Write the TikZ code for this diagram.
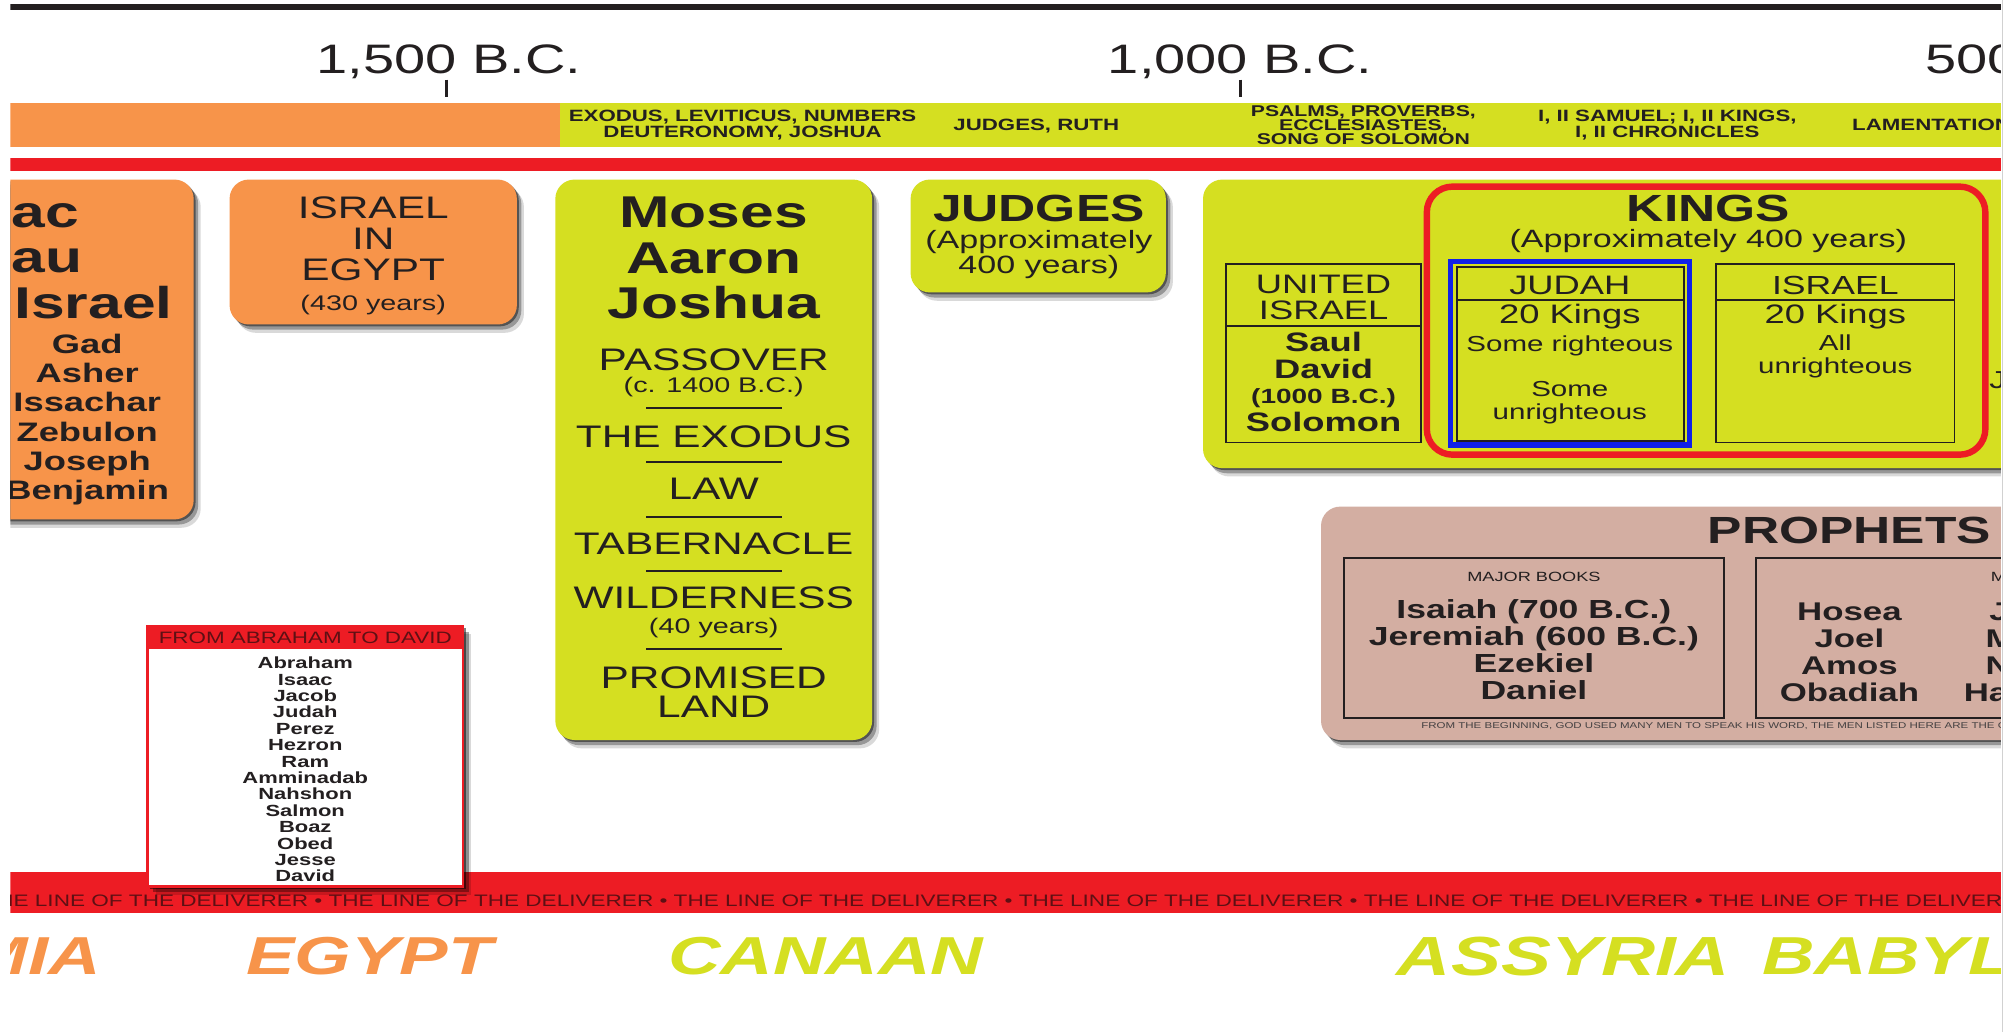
\documentclass[tikz,border=0pt]{standalone}
\usepackage{fontspec}
\setmainfont{Liberation Sans}[FakeStretch=1.36]
\usetikzlibrary{shadows}
\definecolor{ink}{HTML}{231F20}
\definecolor{org}{HTML}{F7944A}
\definecolor{ylw}{HTML}{D5DF21}
\definecolor{rd}{HTML}{ED1C24}
\definecolor{prp}{HTML}{D3AEA2}
\definecolor{drd}{HTML}{5E1014}
\definecolor{blu}{HTML}{1020E8}
\newcommand{\fsz}[1]{\fontsize{#1}{#1}\selectfont}
\begin{document}
\begin{tikzpicture}[x=1pt,y=-1pt,
  lbl/.style={inner sep=0pt, anchor=base, /utils/exec={\pgfmathsetmacro\curfs{#1*0.868}},
    yshift={-0.358*\curfs*1pt}, font=\fsz{\curfs}, text=ink,
    text height={0.716*\curfs*1pt}, text depth=0pt},
  lblb/.style={lbl=#1, font=\fsz{\curfs}\bfseries},
  lblbi/.style={lbl=#1, font=\fsz{\curfs}\bfseries\itshape},
  box/.style={rounded corners=15pt,
    drop shadow={shadow xshift=1.5pt, shadow yshift=-1.5pt, opacity=0.45, fill=black},
    drop shadow={shadow xshift=3.5pt, shadow yshift=-4pt, opacity=0.3, fill=black},
    drop shadow={shadow xshift=5.5pt, shadow yshift=-6.5pt, opacity=0.15, fill=black}},
  sep/.style={ink, line width=1.5pt},
  thin/.style={draw=ink, line width=1.3pt}
]
\useasboundingbox (0,0) rectangle (1568,804.6);
\begin{scope}
\clip (8,0) rectangle (1560,804.6);
% top rule and dates
\fill[ink] (8,3) rectangle (1560,8);
\node[lbl=37] (d1500) at (350,46) {1,500 B.C.};
\node[lbl=37] (d1000) at (967,46) {1,000 B.C.};
\node[lbl=37, anchor=base west] (d500) at (1501,46) {500};
\draw[ink, line width=2pt] (348,62) -- (348,76);
\draw[ink, line width=2pt] (967,62) -- (967,76);
% book bar
\fill[org] (8,80) rectangle (437,115);
\fill[ylw] (437,80) rectangle (1560,115);
\node[lblb=14.7] (b1) at (579,90) {EXODUS, LEVITICUS, NUMBERS};
\node[lblb=14.7] (b2) at (579,103) {DEUTERONOMY, JOSHUA};
\node[lblb=14.7] (b3) at (808,97) {JUDGES, RUTH};
\node[lblb=14] (b4) at (1063,86.5) {PSALMS, PROVERBS,};
\node[lblb=14] (b5) at (1063,97.5) {ECCLESIASTES,};
\node[lblb=14] (b6) at (1063,108.5) {SONG OF SOLOMON};
\node[lblb=14.7] (b7) at (1300,90) {I, II SAMUEL; I, II KINGS,};
\node[lblb=14.7] (b8) at (1300,103) {I, II CHRONICLES};
\node[lblb=14.7, anchor=base west] (b9) at (1444,97) {LAMENTATION};
\fill[rd] (8,123) rectangle (1560,133);
% left orange box
\fill[org, box] (-30,140) rectangle (151,405);
\node[lblb=40, anchor=base west] (p1) at (9,165) {ac};
\node[lblb=40, anchor=base west] (p2) at (9,200) {au};
\node[lblb=40, anchor=base west] (p3) at (11,236) {Israel};
\foreach \nm [count=\i from 0] in {Gad,Asher,Issachar,Zebulon,Joseph,Benjamin}
  \node[lblb=24] (son\i) at (68,{268+22.8*\i}) {\nm};
% Israel in Egypt
\fill[org, box] (179,140) rectangle (403,253);
\node[lbl=28] (e1) at (291,162) {ISRAEL};
\node[lbl=28] (e2) at (291,186) {IN};
\node[lbl=28] (e3) at (291,210) {EGYPT};
\node[lbl=19] (e4) at (291,236) {(430 years)};
% Moses box
\fill[ylw, box] (433,140) rectangle (680,577);
\node[lblb=40] (m1) at (556.5,165) {Moses};
\node[lblb=40] (m2) at (556.5,200.5) {Aaron};
\node[lblb=40] (m3) at (556.5,236) {Joshua};
\node[lbl=28] (m4) at (556.5,280) {PASSOVER};
\node[lbl=19] (m5) at (556.5,300) {(c. 1400 B.C.)};
\node[lbl=28] (m6) at (556.5,340) {THE EXODUS};
\node[lbl=28] (m7) at (556.5,381) {LAW};
\node[lbl=28] (m8) at (556.5,424) {TABERNACLE};
\node[lbl=28] (m9) at (556.5,466) {WILDERNESS};
\node[lbl=19] (m10) at (556.5,488) {(40 years)};
\node[lbl=28] (m11) at (556.5,528) {PROMISED};
\node[lbl=28] (m12) at (556.5,551) {LAND};
\foreach \y in {318,360,403,445,506} \draw[sep] (504,\y) -- (610,\y);
% Judges box
\fill[ylw, box] (710,140) rectangle (909,228);
\node[lblb=34] (j1) at (810,162) {JUDGES};
\node[lbl=22.5] (j2) at (810,187) {(Approximately};
\node[lbl=22.5] (j3) at (810,206) {400 years)};
% Kings box
\fill[ylw, box] (938,140) rectangle (1620,365);
\draw[thin] (956,206) rectangle (1108,345);
\draw[thin] (956,254) -- (1108,254);
\node[lbl=24] (u1) at (1032,221) {UNITED};
\node[lbl=24] (u2) at (1032,242) {ISRAEL};
\node[lblb=24] (u3) at (1032,267) {Saul};
\node[lblb=24] (u4) at (1032,288) {David};
\node[lblb=18.5] (u5) at (1032,309) {(1000 B.C.)};
\node[lblb=24] (u6) at (1032,329) {Solomon};
\draw[rd, line width=5pt, rounded corners=20pt] (1112.5,145.5) rectangle (1548,354.5);
\node[lblb=34] (k1) at (1332,162) {KINGS};
\node[lbl=22.5] (k2) at (1332,186) {(Approximately 400 years)};
\draw[thin] (1136,208) rectangle (1313,344);
\draw[thin] (1136,234) -- (1313,234);
\draw[blu, line width=4pt] (1131,204) rectangle (1317,347);
\node[lbl=24] (ju1) at (1224,222) {JUDAH};
\node[lbl=24] (ju2) at (1224,245) {20 Kings};
\node[lbl=19.5] (ju3) at (1224,268) {Some righteous};
\node[lbl=19.5] (ju4) at (1224,303) {Some};
\node[lbl=19.5] (ju5) at (1224,321) {unrighteous};
\draw[thin] (1338,206) rectangle (1524,345);
\draw[thin] (1338,234) -- (1524,234);
\node[lbl=23.5] (is1) at (1431,222) {ISRAEL};
\node[lbl=24] (is2) at (1431,245) {20 Kings};
\node[lbl=19.5] (is3) at (1431,267) {All};
\node[lbl=19.5] (is4) at (1431,285) {unrighteous};
\node[lbl=22, anchor=base west] (jx) at (1551,296) {J};
% Prophets
\fill[prp, box] (1030,395) rectangle (1620,577);
\node[lblb=34] (pr) at (1442,413) {PROPHETS};
\draw[thin] (1048,435) rectangle (1344,560);
\draw[thin] (1369,435) rectangle (1620,560);
\node[lbl=12] (mj) at (1196,450) {MAJOR BOOKS};
\node[lblb=23.5] (mj1) at (1196,475) {Isaiah (700 B.C.)};
\node[lblb=23.5] (mj2) at (1196,496) {Jeremiah (600 B.C.)};
\node[lblb=23.5] (mj3) at (1196,517) {Ezekiel};
\node[lblb=23.5] (mj4) at (1196,538) {Daniel};
\node[lbl=12, anchor=base west] (mn) at (1552,450) {M};
\node[lblb=23] (mn1) at (1442,477) {Hosea};
\node[lblb=23] (mn2) at (1442,498) {Joel};
\node[lblb=23] (mn3) at (1442,519) {Amos};
\node[lblb=23] (mn4) at (1442,540) {Obadiah};
\node[lblb=23, anchor=base west] (mn5) at (1551,477) {J};
\node[lblb=23, anchor=base west] (mn6) at (1548,498) {M};
\node[lblb=23, anchor=base west] (mn7) at (1548,519) {N};
\node[lblb=23, anchor=base west] (mn8) at (1531,540) {Ha};
\node[lbl=7.6, anchor=base west, text=ink!85] (ft) at (1108,566) {FROM THE BEGINNING, GOD USED MANY MEN TO SPEAK HIS WORD, THE MEN LISTED HERE ARE THE ON};
% bottom band
\fill[rd] (8,680) rectangle (1560,712);
\node[lbl=14.9, anchor=base west, text=drd] (band) at (-13,702) {THE LINE OF THE DELIVERER • THE LINE OF THE DELIVERER • THE LINE OF THE DELIVERER • THE LINE OF THE DELIVERER • THE LINE OF THE DELIVERER • THE LINE OF THE DELIVERER • THE LINE OF THE DELIVERER};
% Abraham to David
\filldraw[fill=white, draw=rd, line width=2pt,
  drop shadow={shadow xshift=2pt, shadow yshift=-2pt, opacity=0.5, fill=black},
  drop shadow={shadow xshift=4.5pt, shadow yshift=-4.5pt, opacity=0.35, fill=black},
  drop shadow={shadow xshift=6.5pt, shadow yshift=-6.5pt, opacity=0.15, fill=black}] (115,488) rectangle (361,691);
\fill[rd] (115,488) rectangle (361,506);
\node[lbl=14.8, text=drd] (abh) at (238,497) {FROM ABRAHAM TO DAVID};
\foreach \nm [count=\i from 0] in {Abraham,Isaac,Jacob,Judah,Perez,Hezron,Ram,Amminadab,Nahshon,Salmon,Boaz,Obed,Jesse,David}
  \node[lblb=14.5] (ab\i) at (238,{517+12.77*\i}) {\nm};
% regions
\node[lblbi=48, anchor=base east, text=org] (r1) at (79,745) {MIA};
\node[lblbi=48, anchor=base west, text=org] (r2) at (192,745) {EGYPT};
\node[lblbi=48, anchor=base west, text=ylw] (r3) at (521,745) {CANAAN};
\node[lblbi=49.5, anchor=base west, text=ylw] (r4) at (1089,745) {ASSYRIA};
\node[lblbi=48, anchor=base west, text=ylw] (r5) at (1374,745) {BABYL};
\end{scope}
\draw[black!18, line width=1pt] (1561.5,0) -- (1561.5,804.6);
\end{tikzpicture}
\end{document}
